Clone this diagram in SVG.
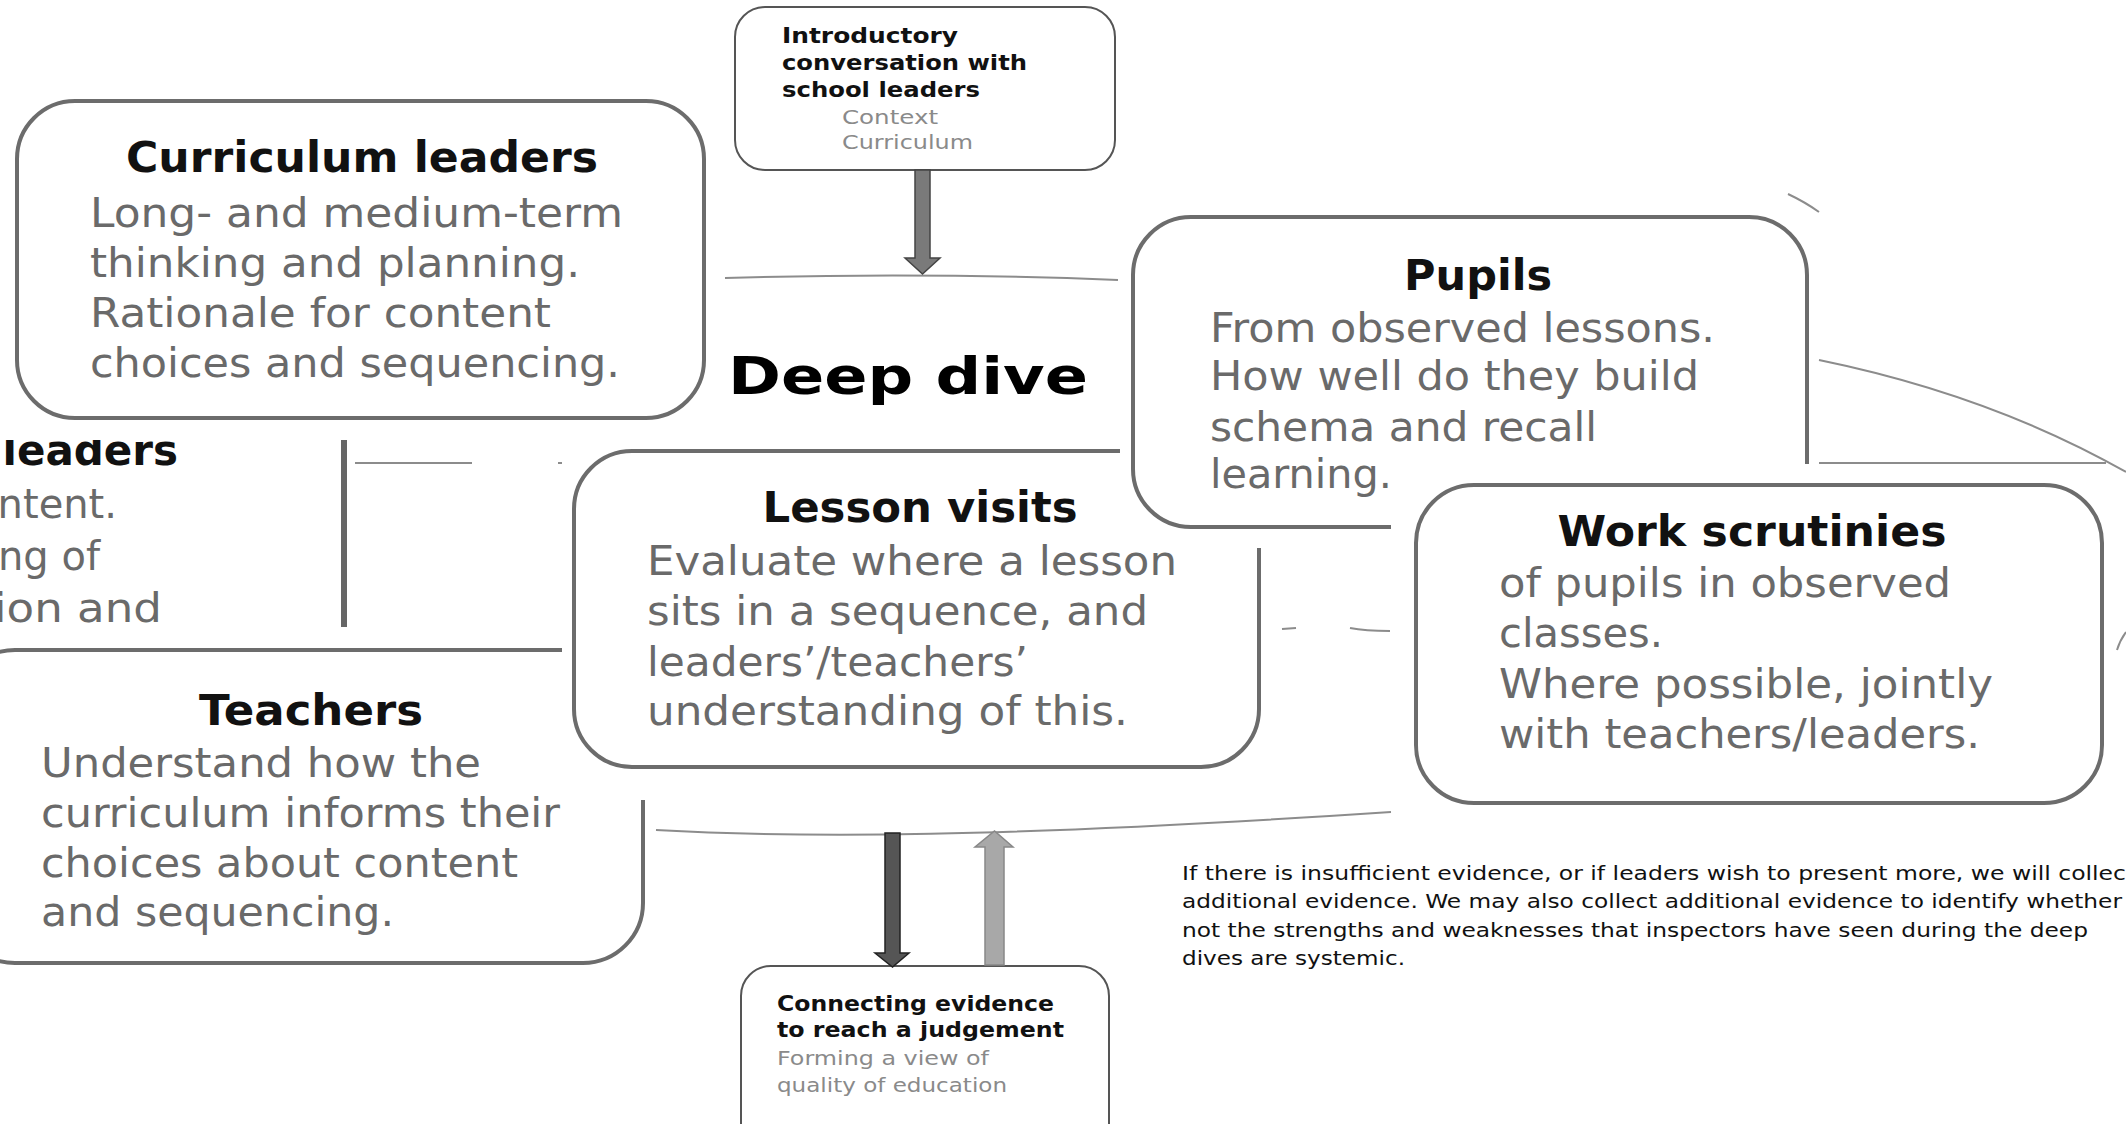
<svg xmlns="http://www.w3.org/2000/svg" width="2126" height="1124" viewBox="0 0 2126 1124">
<style>
.box{fill:#fff;stroke:#6c6c6c;stroke-width:4}
.sbox{fill:#fff;stroke:#555;stroke-width:2}
.mask{fill:#fff;stroke:none}
.t{font-family:"DejaVu Sans",Verdana,sans-serif;font-weight:bold;font-size:42px;fill:#111}
.b{font-family:"DejaVu Sans",Verdana,sans-serif;font-size:40px;fill:#6a6a6a}
.st{font-family:"DejaVu Sans",Verdana,sans-serif;font-weight:bold;font-size:21px;fill:#111}
.sb{font-family:"DejaVu Sans",Verdana,sans-serif;font-size:20px;fill:#8a8a8a}
.p{font-family:"DejaVu Sans",Verdana,sans-serif;font-size:20px;fill:#111}
.ln{fill:none;stroke:#8c8c8c;stroke-width:2}
</style>
<defs>
<clipPath id="fragClip"><rect x="0" y="440" width="352" height="190"/></clipPath>
</defs>
<rect x="0" y="0" width="2126" height="1124" fill="#fff"/>

<g id="curriculum-leaders">
<rect class="box" x="17" y="101" width="687" height="317" rx="58"/>
<text class="t" x="362" y="172" text-anchor="middle" textLength="472" lengthAdjust="spacingAndGlyphs">Curriculum leaders</text>
<text class="b" x="90" y="227" textLength="533" lengthAdjust="spacingAndGlyphs">Long- and medium-term</text>
<text class="b" x="90" y="277" textLength="490" lengthAdjust="spacingAndGlyphs">thinking and planning.</text>
<text class="b" x="90" y="327" textLength="461" lengthAdjust="spacingAndGlyphs">Rationale for content</text>
<text class="b" x="90" y="377" textLength="530" lengthAdjust="spacingAndGlyphs">choices and sequencing.</text>
</g>

<g id="leaders-fragment" clip-path="url(#fragClip)">
<text class="t" x="178" y="465" text-anchor="end">leaders</text>
<text class="b" x="117" y="518" text-anchor="end">ntent.</text>
<text class="b" x="100" y="570" text-anchor="end">ng of</text>
<text class="b" x="-6" y="622" textLength="168" lengthAdjust="spacingAndGlyphs">ion and</text>
<line x1="344" y1="440" x2="344" y2="627" stroke="#666" stroke-width="6"/>
</g>

<g id="teachers">
<rect class="box" x="-45" y="650" width="688" height="313" rx="60"/>
<text class="t" x="311" y="725" text-anchor="middle" textLength="224" lengthAdjust="spacingAndGlyphs">Teachers</text>
<text class="b" x="41" y="777" textLength="440" lengthAdjust="spacingAndGlyphs">Understand how the</text>
<text class="b" x="41" y="827" textLength="519" lengthAdjust="spacingAndGlyphs">curriculum informs their</text>
<text class="b" x="41" y="877" textLength="477" lengthAdjust="spacingAndGlyphs">choices about content</text>
<text class="b" x="41" y="926" textLength="353" lengthAdjust="spacingAndGlyphs">and sequencing.</text>
</g>

<g id="lesson-visits">
<rect class="mask" x="562" y="440" width="560" height="360"/>
<rect class="box" x="574" y="451" width="685" height="316" rx="58"/>
<text class="t" x="920" y="522" text-anchor="middle" textLength="315" lengthAdjust="spacingAndGlyphs">Lesson visits</text>
<text class="b" x="647" y="575" textLength="530" lengthAdjust="spacingAndGlyphs">Evaluate where a lesson</text>
<text class="b" x="647" y="625" textLength="501" lengthAdjust="spacingAndGlyphs">sits in a sequence, and</text>
<text class="b" x="647" y="676" textLength="381" lengthAdjust="spacingAndGlyphs">leaders’/teachers’</text>
<text class="b" x="647" y="725" textLength="481" lengthAdjust="spacingAndGlyphs">understanding of this.</text>
</g>

<g id="pupils">
<rect class="mask" x="1120" y="200" width="698" height="348"/>
<rect class="box" x="1133" y="217" width="674" height="310" rx="58"/>
<text class="t" x="1478" y="290" text-anchor="middle" textLength="148" lengthAdjust="spacingAndGlyphs">Pupils</text>
<text class="b" x="1210" y="342" textLength="505" lengthAdjust="spacingAndGlyphs">From observed lessons.</text>
<text class="b" x="1210" y="390" textLength="489" lengthAdjust="spacingAndGlyphs">How well do they build</text>
<text class="b" x="1210" y="441" textLength="387" lengthAdjust="spacingAndGlyphs">schema and recall</text>
<text class="b" x="1210" y="488" textLength="182" lengthAdjust="spacingAndGlyphs">learning.</text>
</g>

<g id="work-scrutinies">
<rect class="mask" x="1391" y="464" width="730" height="356"/>
<rect class="box" x="1416" y="485" width="686" height="318" rx="58"/>
<text class="t" x="1752" y="546" text-anchor="middle" textLength="389" lengthAdjust="spacingAndGlyphs">Work scrutinies</text>
<text class="b" x="1499" y="597" textLength="452" lengthAdjust="spacingAndGlyphs">of pupils in observed</text>
<text class="b" x="1499" y="647" textLength="164" lengthAdjust="spacingAndGlyphs">classes.</text>
<text class="b" x="1499" y="698" textLength="494" lengthAdjust="spacingAndGlyphs">Where possible, jointly</text>
<text class="b" x="1499" y="748" textLength="481" lengthAdjust="spacingAndGlyphs">with teachers/leaders.</text>
</g>

<g id="introductory">
<rect class="sbox" x="735" y="7" width="380" height="163" rx="30"/>
<text class="st" x="782" y="43" textLength="176" lengthAdjust="spacingAndGlyphs">Introductory</text>
<text class="st" x="782" y="70" textLength="245" lengthAdjust="spacingAndGlyphs">conversation with</text>
<text class="st" x="782" y="97" textLength="198" lengthAdjust="spacingAndGlyphs">school leaders</text>
<text class="sb" x="842" y="124" textLength="96" lengthAdjust="spacingAndGlyphs">Context</text>
<text class="sb" x="842" y="149" textLength="131" lengthAdjust="spacingAndGlyphs">Curriculum</text>
</g>

<g id="deep-dive">
<text x="728" y="394" font-family="'DejaVu Sans',Verdana,sans-serif" font-weight="bold" font-size="52" fill="#000" textLength="360" lengthAdjust="spacingAndGlyphs">Deep dive</text>
</g>

<g id="judgement">
<rect class="sbox" x="741" y="966" width="368" height="190" rx="30"/>
<text class="st" x="777" y="1011" textLength="277" lengthAdjust="spacingAndGlyphs">Connecting evidence</text>
<text class="st" x="777" y="1037" textLength="287" lengthAdjust="spacingAndGlyphs">to reach a judgement</text>
<text class="sb" x="777" y="1065" textLength="212" lengthAdjust="spacingAndGlyphs">Forming a view of</text>
<text class="sb" x="777" y="1092" textLength="230" lengthAdjust="spacingAndGlyphs">quality of education</text>
</g>

<g id="note">
<text class="p" x="1182" y="880" textLength="944" lengthAdjust="spacingAndGlyphs">If there is insufficient evidence, or if leaders wish to present more, we will collec</text>
<text class="p" x="1182" y="908" textLength="940" lengthAdjust="spacingAndGlyphs">additional evidence. We may also collect additional evidence to identify whether</text>
<text class="p" x="1182" y="937" textLength="906" lengthAdjust="spacingAndGlyphs">not the strengths and weaknesses that inspectors have seen during the deep</text>
<text class="p" x="1182" y="965" textLength="223" lengthAdjust="spacingAndGlyphs">dives are systemic.</text>
</g>

<g id="connectors">
<path class="ln" d="M725,278 Q920,272 1118,280"/>
<path class="ln" d="M656,830 C800,838 1000,838 1391,812"/>
<path class="ln" d="M1819,360 Q1990,395 2126,472"/>
<path class="ln" d="M1788,194 Q1805,202 1819,212"/>
<path class="ln" d="M1819,463 L2106,463" stroke-width="1.5"/>
<path class="ln" d="M355,463 L472,463" stroke-width="1.5"/>
<path class="ln" d="M558,463 L562,463" stroke-width="1.5"/>
<path class="ln" d="M1282,629 L1296,628"/>
<path class="ln" d="M1350,628 Q1365,631 1390,631" stroke="#666"/>
<path class="ln" d="M2117,650 Q2120,640 2126,632"/>
<polygon points="915,170 930,170 930,258 940,258 922.5,274 905,258 915,258" fill="#7a7a7a" stroke="#444" stroke-width="1.5"/>
<polygon points="885,833 900,833 900,953 909,953 892.5,967 875,953 885,953" fill="#555" stroke="#222" stroke-width="1.5"/>
<polygon points="985,965 1004,965 1004,847 1013,847 994.5,831 975,847 985,847" fill="#a8a8a8" stroke="#888" stroke-width="1.5"/>
</g>
</svg>
